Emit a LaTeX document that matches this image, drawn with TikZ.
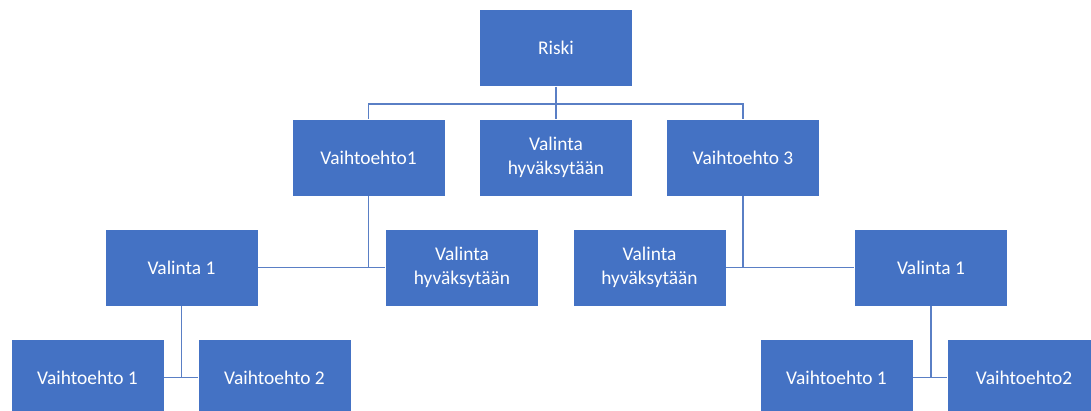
\documentclass[tikz,border=0pt]{standalone}
\usepackage{fontspec}
\setmainfont{Carlito}
\usepackage{tikz}
\usetikzlibrary{positioning,calc}
\definecolor{boxblue}{HTML}{4472C4}
\definecolor{linkblue}{HTML}{5A7FC5}

\begin{document}
\begin{tikzpicture}[x=1pt,y=-1pt,
  box/.style={draw=white,line width=0.8pt,fill=boxblue,text=white,minimum width=153pt,minimum height=77pt,inner sep=0pt,align=center,font=\fontsize{19.4}{23.5}\selectfont},
  conn/.style={draw=linkblue,line width=1.4pt}]
  \useasboundingbox (0,0) rectangle (1091,410);
  \clip (0,0) rectangle (1091,410);
  % top and second row
  \node[box] (riski) at (556,48) {Riski};
  \node[box] (vaiht1) at (368.5,157.5) {Vaihtoehto1};
  \node[box] (valhyv) at (556,157.5) {Valinta\\hyväksytään};
  \node[box] (vaiht3) at (743,157.5) {Vaihtoehto 3};
  % third row
  \node[box] (val1l) at (181.5,267.5) {Valinta 1};
  \node[box] (hyvl) at (462,267.5) {Valinta\\hyväksytään};
  \node[box] (hyvr) at (649.5,267.5) {Valinta\\hyväksytään};
  \node[box] (val1r) at (931,267.5) {Valinta 1};
  % bottom row
  \foreach \n/\x/\t in {vtl1/87.5/Vaihtoehto 1, vtl2/274.5/Vaihtoehto 2, vtr1/836.5/Vaihtoehto 1, vtr2/1024/Vaihtoehto2}
    \node[box] (\n) at (\x,377.5) {\t};

  \coordinate (bus) at (556,104);
  \draw[conn] (riski.south) -- (valhyv.north);
  \draw[conn] (vaiht1.north) |- (bus) -| (vaiht3.north);
  \draw[conn] (val1l.east) -- (hyvl.west);
  \draw[conn] (vaiht1.south) -- (vaiht1.south |- val1l.east);
  \draw[conn] (hyvr.east) -- (val1r.west);
  \draw[conn] (vaiht3.south) -- (vaiht3.south |- val1r.west);
  \draw[conn] (vtl1.east) -- (vtl2.west);
  \draw[conn] (val1l.south) -- (val1l.south |- vtl1.east);
  \draw[conn] (vtr1.east) -- (vtr2.west);
  \draw[conn] (val1r.south) -- (val1r.south |- vtr1.east);
\end{tikzpicture}
\end{document}
